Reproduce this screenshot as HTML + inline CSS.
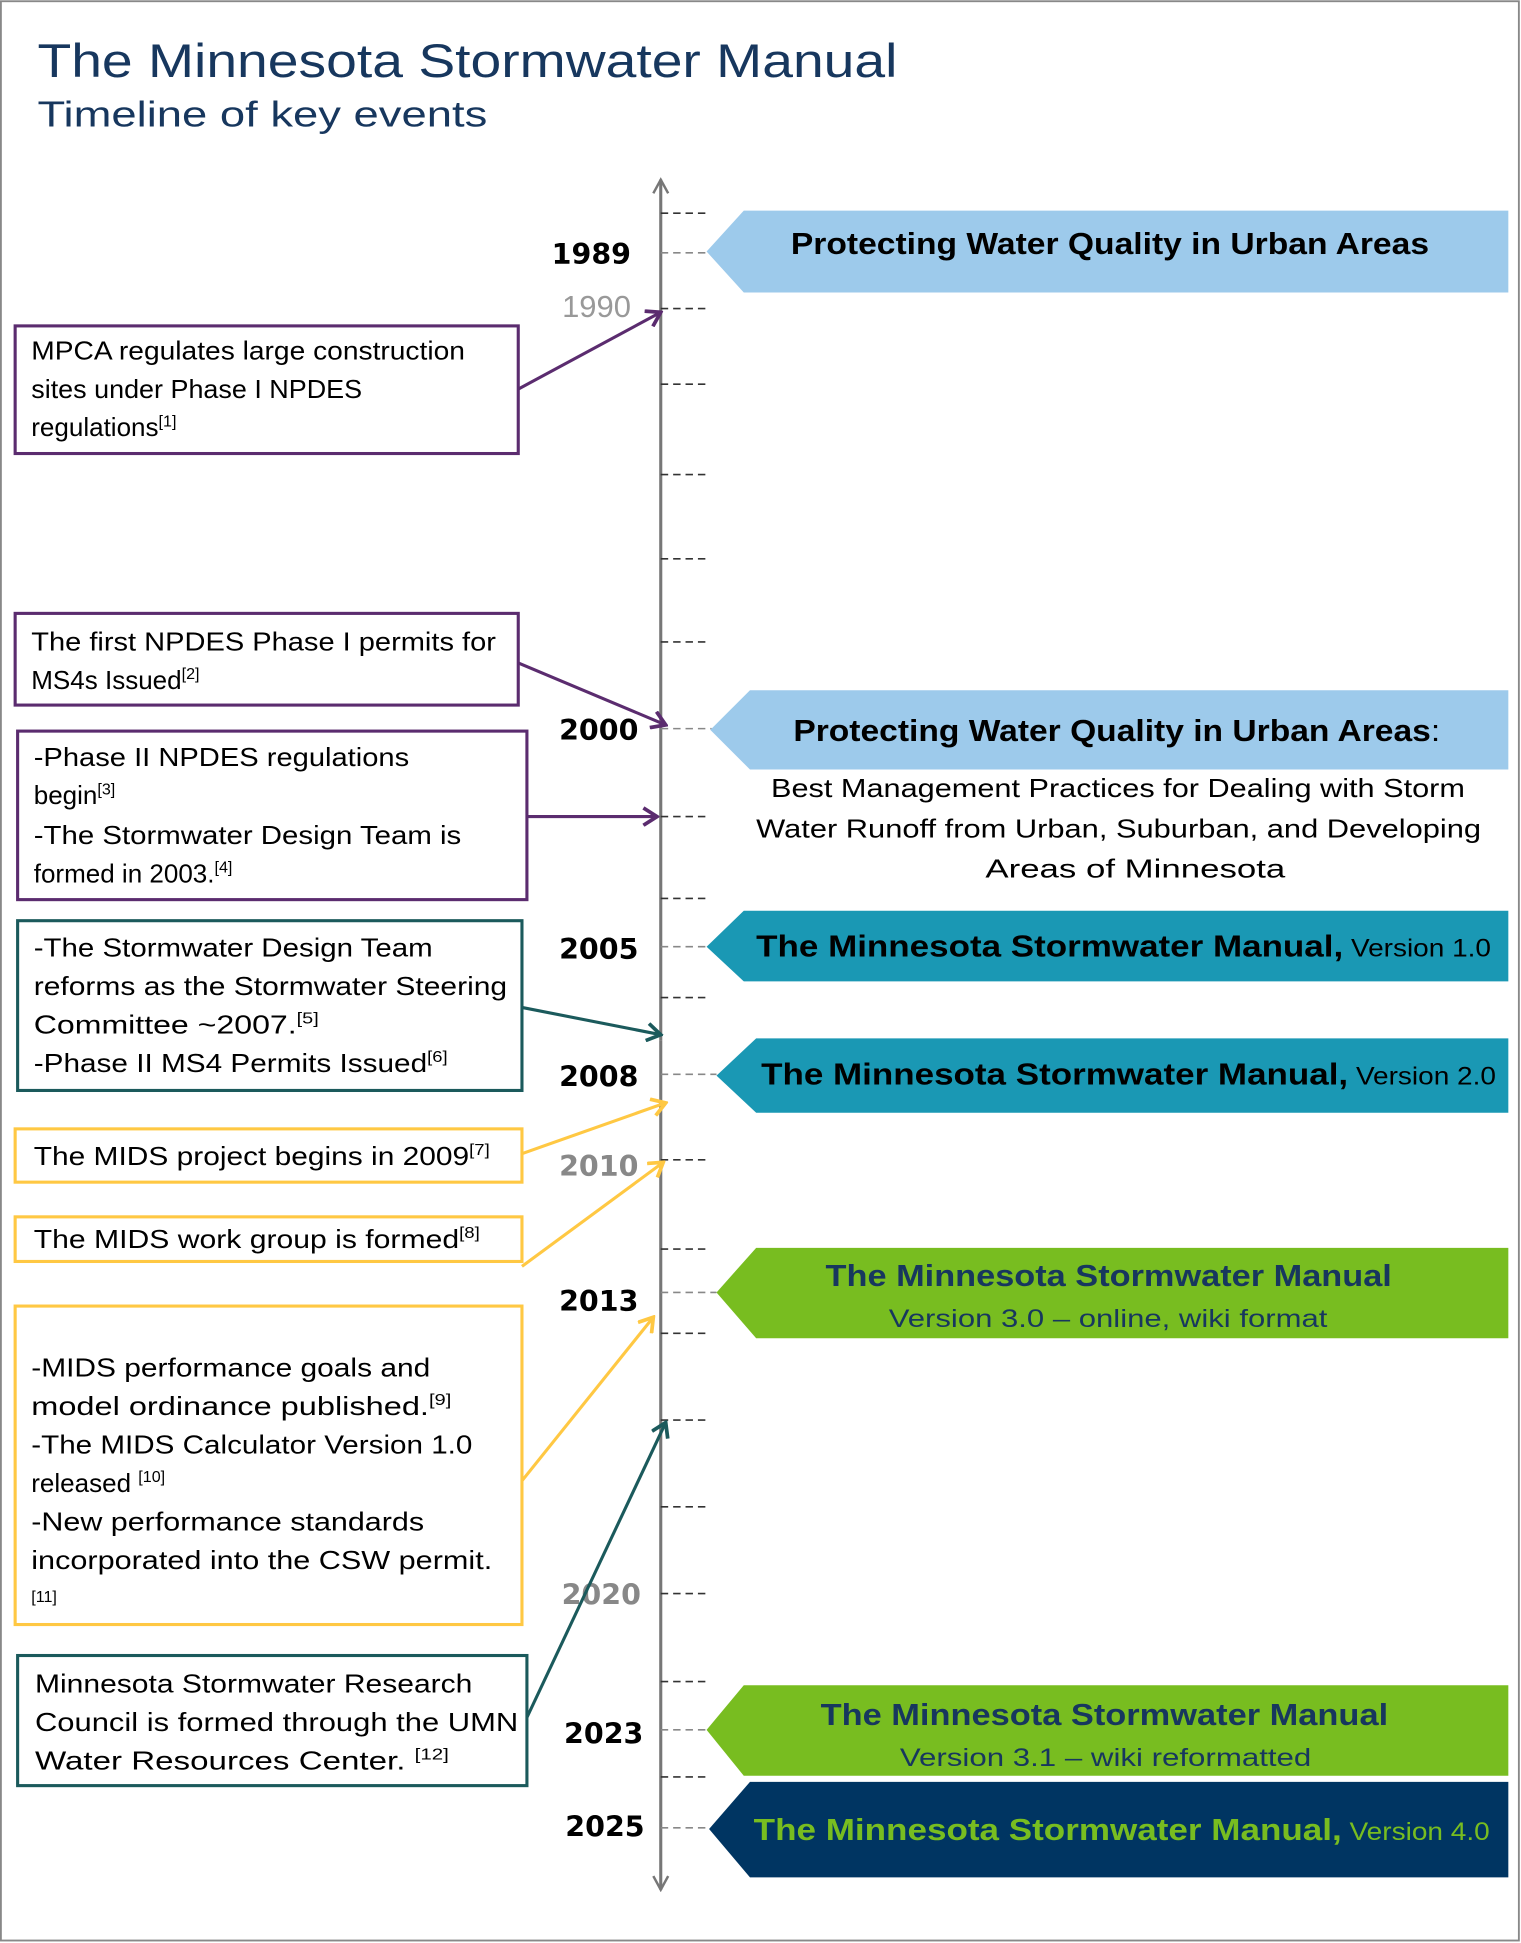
<!DOCTYPE html>
<html><head><meta charset="utf-8"><style>
html,body{margin:0;padding:0;background:#fff}
svg{display:block}
text{font-family:"Liberation Sans",sans-serif}
.b{font-size:21px;fill:#000}
.y{font-family:"DejaVu Sans",sans-serif;font-weight:bold;font-size:23px;text-anchor:end}
.bt{font-weight:bold;font-size:25px}
.sup{font-size:13px}
</style></head><body>
<svg width="1521" height="1943" viewBox="0 0 1227 1568" xmlns="http://www.w3.org/2000/svg">
<defs>
<marker id="mp" markerWidth="14" markerHeight="16" refX="12" refY="8" orient="auto" markerUnits="userSpaceOnUse"><polyline points="1,1 12,8 1,15" fill="none" stroke="#5b2c6f" stroke-width="3"/></marker>
<marker id="mt" markerWidth="14" markerHeight="16" refX="12" refY="8" orient="auto" markerUnits="userSpaceOnUse"><polyline points="1,1 12,8 1,15" fill="none" stroke="#1b5a5c" stroke-width="3"/></marker>
<marker id="my" markerWidth="14" markerHeight="16" refX="12" refY="8" orient="auto" markerUnits="userSpaceOnUse"><polyline points="1,1 12,8 1,15" fill="none" stroke="#ffc843" stroke-width="3"/></marker>
<marker id="mg" markerWidth="14" markerHeight="16" refX="12" refY="8" orient="auto" markerUnits="userSpaceOnUse"><polyline points="1,2 12,8 1,14" fill="none" stroke="#777" stroke-width="2"/></marker>
</defs>
<rect x="0.5" y="1" width="1225" height="1565" fill="#fff" stroke="#888" stroke-width="1.5"/>
<text x="30" y="62" font-size="38" fill="#17375e" textLength="694" lengthAdjust="spacingAndGlyphs">The Minnesota Stormwater Manual</text>
<text x="30" y="102" font-size="29" fill="#17375e" textLength="363" lengthAdjust="spacingAndGlyphs">Timeline of key events</text>

<line x1="533" y1="840" x2="533" y2="145" stroke="#777" stroke-width="2.5" marker-end="url(#mg)"/>
<line x1="533" y1="840" x2="533" y2="1525" stroke="#777" stroke-width="2.5" marker-end="url(#mg)"/>
<g stroke="#333" stroke-width="1.3" stroke-dasharray="6,4">
<line x1="533" y1="172" x2="570" y2="172"/><line x1="533" y1="249" x2="570" y2="249"/>
<line x1="533" y1="310" x2="570" y2="310"/><line x1="533" y1="383" x2="570" y2="383"/>
<line x1="533" y1="451" x2="570" y2="451"/><line x1="533" y1="518" x2="570" y2="518"/>
<line x1="533" y1="659" x2="570" y2="659"/><line x1="533" y1="725" x2="570" y2="725"/>
<line x1="533" y1="805" x2="570" y2="805"/><line x1="533" y1="936" x2="570" y2="936"/>
<line x1="533" y1="1008" x2="570" y2="1008"/><line x1="533" y1="1076" x2="570" y2="1076"/>
<line x1="533" y1="1146" x2="570" y2="1146"/><line x1="533" y1="1216" x2="570" y2="1216"/>
<line x1="533" y1="1286" x2="570" y2="1286"/><line x1="533" y1="1357" x2="570" y2="1357"/>
<line x1="533" y1="1434" x2="570" y2="1434"/>
</g>
<g stroke="#888" stroke-width="1.3" stroke-dasharray="6,4">
<line x1="533" y1="204" x2="572" y2="204"/><line x1="533" y1="588" x2="574" y2="588"/>
<line x1="533" y1="764" x2="570" y2="764"/><line x1="533" y1="867" x2="578" y2="867"/>
<line x1="533" y1="1043" x2="578" y2="1043"/><line x1="533" y1="1396" x2="570" y2="1396"/>
<line x1="533" y1="1475" x2="572" y2="1475"/>
</g>

<text class="y" x="509" y="213">1989</text>
<text x="509" y="256" font-size="25" fill="#999" text-anchor="end">1990</text>
<text class="y" x="515" y="597">2000</text>
<text class="y" x="515" y="774">2005</text>
<text class="y" x="515" y="877">2008</text>
<text class="y" x="515" y="949" fill="#888">2010</text>
<text class="y" x="515" y="1058">2013</text>
<text class="y" x="517" y="1295" fill="#888">2020</text>
<text class="y" x="519" y="1407">2023</text>
<text class="y" x="520" y="1482">2025</text>

<polygon points="570,203 600,170 1217,170 1217,236 600,236" fill="#9dcaeb"/>
<text class="bt" x="638" y="205" textLength="515" lengthAdjust="spacingAndGlyphs">Protecting Water Quality in Urban Areas</text>

<polygon points="573,589 605,557 1217,557 1217,621 605,621" fill="#9dcaeb"/>
<text class="bt" x="640" y="598" textLength="522" lengthAdjust="spacingAndGlyphs">Protecting Water Quality in Urban Areas<tspan font-weight="normal">:</tspan></text>
<text x="622" y="643" font-size="21" textLength="560" lengthAdjust="spacingAndGlyphs">Best Management Practices for Dealing with Storm</text>
<text x="610" y="676" font-size="21" textLength="585" lengthAdjust="spacingAndGlyphs">Water Runoff from Urban, Suburban, and Developing</text>
<text x="795" y="708" font-size="21" textLength="242" lengthAdjust="spacingAndGlyphs">Areas of Minnesota</text>

<polygon points="570,764 600,735 1217,735 1217,792 600,792" fill="#1a98b4"/>
<text class="bt" x="610" y="772" textLength="593" lengthAdjust="spacingAndGlyphs">The Minnesota Stormwater Manual,<tspan font-weight="normal" font-size="20"> Version 1.0</tspan></text>

<polygon points="578,868 610,838 1217,838 1217,898 610,898" fill="#1a98b4"/>
<text class="bt" x="614" y="875" textLength="593" lengthAdjust="spacingAndGlyphs">The Minnesota Stormwater Manual,<tspan font-weight="normal" font-size="20"> Version 2.0</tspan></text>

<polygon points="578,1043 610,1007 1217,1007 1217,1080 610,1080" fill="#78bd20"/>
<text class="bt" x="666" y="1038" fill="#17375e" textLength="457" lengthAdjust="spacingAndGlyphs">The Minnesota Stormwater Manual</text>
<text x="717" y="1071" font-size="20" fill="#17375e" textLength="354" lengthAdjust="spacingAndGlyphs">Version 3.0 – online, wiki format</text>

<polygon points="570,1396 600,1360 1217,1360 1217,1433 600,1433" fill="#78bd20"/>
<text class="bt" x="662" y="1392" fill="#17375e" textLength="458" lengthAdjust="spacingAndGlyphs">The Minnesota Stormwater Manual</text>
<text x="726" y="1425" font-size="20" fill="#17375e" textLength="332" lengthAdjust="spacingAndGlyphs">Version 3.1 – wiki reformatted</text>

<polygon points="572,1476 605,1438 1217,1438 1217,1515 605,1515" fill="#003562"/>
<text class="bt" x="608" y="1485" fill="#78bd20" textLength="594" lengthAdjust="spacingAndGlyphs">The Minnesota Stormwater Manual,<tspan font-weight="normal" font-size="20"> Version 4.0</tspan></text>

<line x1="418" y1="314" x2="533" y2="252" stroke="#5b2c6f" stroke-width="2.5" marker-end="url(#mp)"/>
<line x1="418" y1="535" x2="537" y2="585" stroke="#5b2c6f" stroke-width="2.5" marker-end="url(#mp)"/>
<line x1="425" y1="659" x2="530" y2="659" stroke="#5b2c6f" stroke-width="2.5" marker-end="url(#mp)"/>
<line x1="421" y1="813" x2="533" y2="835" stroke="#1b5a5c" stroke-width="2.5" marker-end="url(#mt)"/>
<line x1="421" y1="931" x2="537" y2="890" stroke="#ffc843" stroke-width="2.5" marker-end="url(#my)"/>
<line x1="421" y1="1022" x2="535" y2="938" stroke="#ffc843" stroke-width="2.5" marker-end="url(#my)"/>
<line x1="421" y1="1195" x2="527" y2="1063" stroke="#ffc843" stroke-width="2.5" marker-end="url(#my)"/>
<line x1="425" y1="1386" x2="537" y2="1148" stroke="#1b5a5c" stroke-width="2.5" marker-end="url(#mt)"/>

<g fill="#fff" stroke-width="2.5">
<rect x="12" y="263" width="406" height="103" stroke="#5b2c6f"/>
<rect x="12" y="495" width="406" height="74" stroke="#5b2c6f"/>
<rect x="14" y="590" width="411" height="136" stroke="#5b2c6f"/>
<rect x="14" y="743" width="407" height="137" stroke="#1b5a5c"/>
<rect x="12" y="911" width="409" height="43" stroke="#ffc843"/>
<rect x="12" y="982" width="409" height="36" stroke="#ffc843"/>
<rect x="12" y="1054" width="409" height="257" stroke="#ffc843"/>
<rect x="14" y="1336" width="411" height="105" stroke="#1b5a5c"/>
</g>

<text class="b" x="25" y="290" textLength="350" lengthAdjust="spacingAndGlyphs">MPCA regulates large construction</text>
<text class="b" x="25" y="321" textLength="267" lengthAdjust="spacingAndGlyphs">sites under  Phase I NPDES</text>
<text class="b" x="25" y="352">regulations<tspan class="sup" dy="-8">[1]</tspan></text>

<text class="b" x="25" y="525" textLength="375" lengthAdjust="spacingAndGlyphs">The first NPDES Phase I permits for</text>
<text class="b" x="25" y="556">MS4s Issued<tspan class="sup" dy="-8">[2]</tspan></text>

<text class="b" x="27" y="618" textLength="303" lengthAdjust="spacingAndGlyphs">-Phase II NPDES regulations</text>
<text class="b" x="27" y="649">begin<tspan class="sup" dy="-8">[3]</tspan></text>
<text class="b" x="27" y="681" textLength="345" lengthAdjust="spacingAndGlyphs">-The Stormwater Design Team is</text>
<text class="b" x="27" y="712">formed in 2003.<tspan class="sup" dy="-8">[4]</tspan></text>

<text class="b" x="27" y="772" textLength="322" lengthAdjust="spacingAndGlyphs">-The Stormwater Design Team</text>
<text class="b" x="27" y="803" textLength="382" lengthAdjust="spacingAndGlyphs">reforms as the Stormwater Steering</text>
<text class="b" x="27" y="834" textLength="230" lengthAdjust="spacingAndGlyphs">Committee ~2007.<tspan class="sup" dy="-8">[5]</tspan></text>
<text class="b" x="27" y="865" textLength="334" lengthAdjust="spacingAndGlyphs">-Phase II MS4 Permits Issued<tspan class="sup" dy="-8">[6]</tspan></text>

<text class="b" x="27" y="940" textLength="368" lengthAdjust="spacingAndGlyphs">The MIDS project begins in 2009<tspan class="sup" dy="-8">[7]</tspan></text>
<text class="b" x="27" y="1007" textLength="360" lengthAdjust="spacingAndGlyphs">The MIDS work  group is formed<tspan class="sup" dy="-8">[8]</tspan></text>

<text class="b" x="25" y="1111" textLength="322" lengthAdjust="spacingAndGlyphs">-MIDS performance goals and</text>
<text class="b" x="25" y="1142" textLength="339" lengthAdjust="spacingAndGlyphs">model ordinance published.<tspan class="sup" dy="-8">[9]</tspan></text>
<text class="b" x="25" y="1173" textLength="356" lengthAdjust="spacingAndGlyphs">-The MIDS Calculator Version 1.0</text>
<text class="b" x="25" y="1204">released <tspan class="sup" dy="-8">[10]</tspan></text>
<text class="b" x="25" y="1235" textLength="317" lengthAdjust="spacingAndGlyphs">-New performance standards</text>
<text class="b" x="25" y="1266" textLength="372" lengthAdjust="spacingAndGlyphs">incorporated into the CSW permit.</text>
<text x="25" y="1293" font-size="13">[11]</text>

<text class="b" x="28" y="1366" textLength="353" lengthAdjust="spacingAndGlyphs">Minnesota Stormwater Research</text>
<text class="b" x="28" y="1397" textLength="390" lengthAdjust="spacingAndGlyphs">Council is formed through the UMN</text>
<text class="b" x="28" y="1428" textLength="334" lengthAdjust="spacingAndGlyphs">Water Resources Center. <tspan class="sup" dy="-8">[12]</tspan></text>
</svg>
</body></html>
